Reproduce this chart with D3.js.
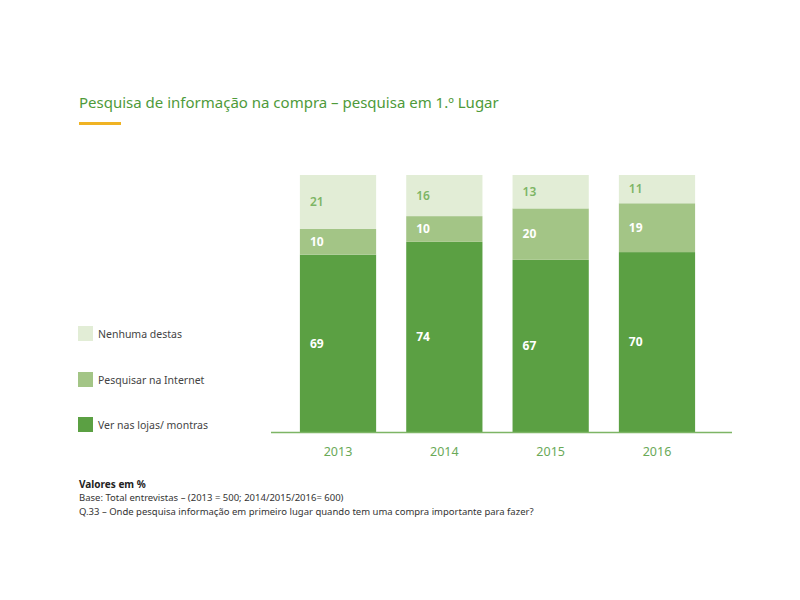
<!DOCTYPE html>
<html>
<head>
<meta charset="utf-8">
<script src="https://cdn.jsdelivr.net/npm/d3@7"></script>
<style>
  body { margin: 0; background: #fff; }
  svg text { font-family: "Noto Sans", "Open Sans", sans-serif; }
</style>
</head>
<body>
<div id="chart"></div>
<script>
// dados
var years = ["2013", "2014", "2015", "2016"];
var lojas = [69, 74, 67, 70];
var internet = [10, 10, 20, 19];
var nenhuma = [21, 16, 13, 11];
var seriesNames = ["Ver nas lojas/ montras", "Pesquisar na Internet", "Nenhuma destas"];
var colors = ["#5ba043", "#a3c586", "#e2edd6"];
var labelColors = ["#ffffff", "#ffffff", "#7db565"];

var width = 800, height = 600;

var svg = d3.select("#chart").append("svg")
    .attr("width", width)
    .attr("height", height);

// titulo
svg.append("text")
    .attr("x", 79)
    .attr("y", 108)
    .style("font-size", "15px")
    .style("fill", "#4e9a3a")
    .text("Pesquisa de informação na compra – pesquisa em 1.º Lugar");

svg.append("rect")
    .attr("x", 79).attr("y", 122)
    .attr("width", 42).attr("height", 3)
    .style("fill", "#f0b323");

// escalas
var x = d3.scaleBand()
    .domain(years)
    .range([268, 727])
    .paddingInner(0.283)
    .paddingOuter(0.3);

var y = d3.scaleLinear()
    .domain([0, 100])
    .range([432, 175]);

// empilhar
var table = years.map(function (yr, i) {
    return { year: yr, lojas: lojas[i], internet: internet[i], nenhuma: nenhuma[i] };
});
var keys = ["lojas", "internet", "nenhuma"];
var stacked = d3.stack().keys(keys)(table);

var layer = svg.selectAll(".layer")
    .data(stacked)
    .enter().append("g")
    .attr("class", "layer")
    .style("fill", function (s) { return colors[s.index]; });

layer.selectAll("rect")
    .data(function (s) { return s; })
    .enter().append("rect")
    .attr("x", function (d) { return x(d.data.year); })
    .attr("y", function (d) { return y(d[1]); })
    .attr("width", x.bandwidth())
    .attr("height", function (d) { return y(d[0]) - y(d[1]); });

// rotulos
stacked.forEach(function (s, k) {
    svg.selectAll(".lbl" + k)
        .data(s)
        .enter().append("text")
        .attr("x", function (d) { return x(d.data.year) + 10; })
        .attr("y", function (d) { return (y(d[0]) + y(d[1])) / 2; })
        .attr("dy", "0.35em")
        .style("font-size", "12px")
        .style("font-weight", k < 2 ? "bold" : "600")
        .style("fill", labelColors[k])
        .text(function (d) { return d[1] - d[0]; });
});

// eixo x
svg.append("line")
    .attr("x1", 271).attr("x2", 732)
    .attr("y1", 432.5).attr("y2", 432.5)
    .style("stroke", "#7db565")
    .style("stroke-width", 1.5);

var xAxis = svg.append("g")
    .attr("transform", "translate(0,432)")
    .call(d3.axisBottom(x).tickSize(0).tickPadding(15));
xAxis.select(".domain").remove();
xAxis.selectAll("text")
    .style("font-size", "12.5px")
    .style("fill", "#6aa957")
    .style("font-family", "'Noto Sans', sans-serif");

// legenda
var legendY = [425, 380, 334];
seriesNames.forEach(function (name, i) {
    svg.append("rect")
        .attr("x", 78).attr("y", legendY[i] - 8)
        .attr("width", 15).attr("height", 15)
        .style("fill", colors[i]);
    svg.append("text")
        .attr("x", 98).attr("y", legendY[i])
        .attr("dy", "0.35em")
        .style("font-size", "10.5px")
        .style("fill", "#444")
        .text(name);
});

// notas
svg.append("text")
    .attr("x", 79).attr("y", 488)
    .style("font-size", "10px")
    .style("font-weight", "bold")
    .style("fill", "#222")
    .text("Valores em %");
svg.append("text")
    .attr("x", 79).attr("y", 501)
    .style("font-size", "9.5px")
    .style("fill", "#333")
    .text("Base: Total entrevistas –  (2013 = 500; 2014/2015/2016= 600)");
svg.append("text")
    .attr("x", 79).attr("y", 515)
    .style("font-size", "9.5px")
    .style("fill", "#333")
    .text("Q.33 – Onde pesquisa informação em primeiro lugar quando tem uma compra importante para fazer?");
</script>
</body>
</html>
